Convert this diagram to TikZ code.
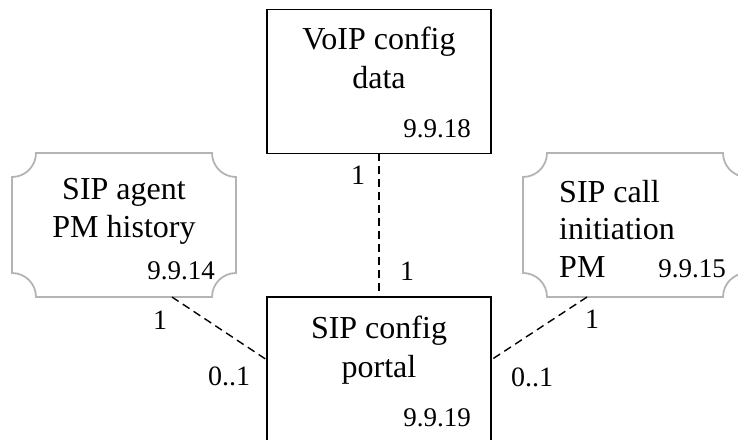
\documentclass[tikz,border=0pt]{standalone}
\usepackage{fontspec}
\setmainfont{Liberation Serif}
\usetikzlibrary{calc}
\definecolor{boxgray}{RGB}{180,180,180}
\newcommand\notchedoutline[1]{%
  \draw[notch] ([xshift=24pt]#1.north west) -- ([xshift=-24pt]#1.north east)
    arc[start angle=180,end angle=270,radius=24pt]
    -- ([yshift=24pt]#1.south east)
    arc[start angle=90,end angle=180,radius=24pt]
    -- ([xshift=24pt]#1.south west)
    arc[start angle=0,end angle=90,radius=24pt]
    -- ([yshift=-24pt]#1.north west)
    arc[start angle=270,end angle=360,radius=24pt] -- cycle;}
\begin{document}
\begin{tikzpicture}[x=1pt,y=1pt,
  plainbox/.style={draw=black,line width=1.8pt,minimum width=224pt,minimum height=144pt,inner sep=0pt,outer sep=0pt},
  ghost/.style={minimum width=224pt,minimum height=144pt,inner sep=0pt,outer sep=0pt},
  notch/.style={draw=boxgray,line width=1.8pt},
  lbl/.style={font=\fontsize{32}{38}\selectfont,inner sep=0pt},
  num/.style={font=\fontsize{27}{32}\selectfont,inner sep=0pt,anchor=base east},
  mult/.style={font=\fontsize{28}{33}\selectfont,inner sep=0pt},
  link/.style={line width=1.4pt,dash pattern=on 8pt off 5pt}]
\useasboundingbox (0,0) rectangle (738,439);
% boxes
\node[plainbox] (T) at (379,357.5) {};
\node[plainbox] (B) at (379,70) {};
\node[ghost] (L) at (124,214) {};
\node[ghost] (R) at (635,214) {};
\notchedoutline{L}
\notchedoutline{R}
% texts
\node[lbl,anchor=base] (t1) at (379,389) {VoIP config};
\node[lbl,anchor=base] (t2) at (379,350) {data};
\node[num] (n1) at (471,301) {9.9.18};
\node[lbl,anchor=base] (b1) at (379,100) {SIP config};
\node[lbl,anchor=base] (b2) at (379,62) {portal};
\node[num] (n2) at (471,13) {9.9.19};
\node[lbl,anchor=base] (l1) at (124,239) {SIP agent};
\node[lbl,anchor=base] (l2) at (124,201) {PM history};
\node[num] (n3) at (215,159) {9.9.14};
\node[lbl,anchor=base west] (r1) at (559,236) {SIP call};
\node[lbl,anchor=base west] (r2) at (559,199) {initiation};
\node[lbl,anchor=base west] (r3) at (559,161) {PM};
\node[num] (n4) at (726,161) {9.9.15};
% connectors
\coordinate (lA) at ($(L.south west)!0.714!(L.south east)$);
\coordinate (rA) at ($(R.south west)!0.286!(R.south east)$);
\draw[link] (T.south) -- (B.north);
\draw[link] (lA) -- ([yshift=9pt]B.west);
\draw[link] (rA) -- ([yshift=9pt]B.east);
% multiplicities
\node[mult] (m1) at (358,264) {1};
\node[mult] (m2) at (407,168) {1};
\node[mult] (m3) at (160,119) {1};
\node[mult] (m4) at (229,63) {0..1};
\node[mult] (m5) at (592,120) {1};
\node[mult] (m6) at (532,62) {0..1};
\end{tikzpicture}
\end{document}
